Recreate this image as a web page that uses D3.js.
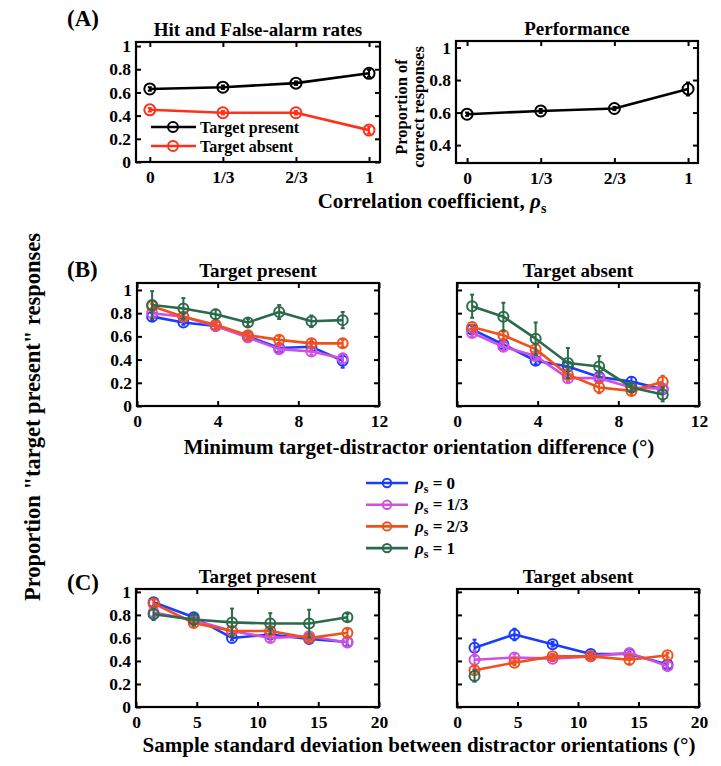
<!DOCTYPE html>
<html><head><meta charset="utf-8">
<script src="https://cdn.jsdelivr.net/npm/d3@7"></script>
<style>body{margin:0;background:#fff}svg{display:block}</style>
</head><body>
<svg id="c" width="721" height="766"></svg>
<script>
// ---------- DATA ----------
const rhoTicks = [0, 1/3, 2/3, 1];
const rhoLabels = ["0", "1/3", "2/3", "1"];
const hitRate = [0.63, 0.645, 0.68, 0.765];
const hitErr = [0.015, 0.015, 0.015, 0.03];
const faRate = [0.45, 0.425, 0.425, 0.275];
const faErr = [0.015, 0.015, 0.015, 0.03];
const perfRate = [0.59, 0.61, 0.625, 0.745];
const perfErr = [0.01, 0.012, 0.01, 0.04];

const seriesNames = ["0", "1/3", "2/3", "1"];
const seriesColors = ["#1a3cff", "#d24fe0", "#f0501a", "#2b6b4b"];

const orientBins = [0.75, 2.3, 3.9, 5.5, 7.05, 8.65, 10.2];
const orientTicks = [0, 4, 8, 12];
const bTP = [
  [0.77, 0.72, 0.69, 0.60, 0.50, 0.51, 0.39],
  [0.80, 0.77, 0.69, 0.59, 0.49, 0.47, 0.41],
  [0.86, 0.77, 0.70, 0.61, 0.57, 0.54, 0.54],
  [0.87, 0.84, 0.79, 0.72, 0.81, 0.73, 0.74]
];
const bTPerr = [
  [0.03, 0.02, 0.03, 0.03, 0.03, 0.03, 0.06],
  [0.03, 0.02, 0.03, 0.03, 0.03, 0.03, 0.04],
  [0.02, 0.02, 0.03, 0.03, 0.03, 0.03, 0.03],
  [0.12, 0.09, 0.04, 0.03, 0.06, 0.05, 0.07]
];
const bTA = [
  [0.66, 0.53, 0.39, 0.34, 0.25, 0.21, 0.145],
  [0.63, 0.51, 0.43, 0.24, 0.24, 0.16, 0.15],
  [0.68, 0.61, 0.49, 0.27, 0.16, 0.13, 0.21],
  [0.86, 0.77, 0.58, 0.37, 0.34, 0.16, 0.10]
];
const bTAerr = [
  [0.03, 0.03, 0.03, 0.03, 0.03, 0.04, 0.03],
  [0.03, 0.03, 0.03, 0.03, 0.03, 0.03, 0.03],
  [0.02, 0.03, 0.04, 0.04, 0.05, 0.03, 0.05],
  [0.10, 0.12, 0.14, 0.13, 0.09, 0.03, 0.06]
];

const sdBins = [1.45, 4.75, 7.9, 11.05, 14.25, 17.4];
const sdTicks = [0, 5, 10, 15, 20];
const cTP = [
  [0.91, 0.78, 0.60, 0.63, 0.59, 0.565],
  [0.82, 0.755, 0.66, 0.60, 0.615, 0.56],
  [0.90, 0.73, 0.66, 0.66, 0.60, 0.645],
  [0.805, 0.76, 0.735, 0.725, 0.725, 0.78]
];
const cTPerr = [
  [0.03, 0.03, 0.02, 0.03, 0.02, 0.03],
  [0.03, 0.03, 0.03, 0.03, 0.03, 0.04],
  [0.03, 0.03, 0.03, 0.03, 0.03, 0.03],
  [0.05, 0.05, 0.12, 0.09, 0.12, 0.03]
];
const cTA = [
  [0.515, 0.63, 0.545, 0.46, 0.46, 0.37],
  [0.41, 0.43, 0.42, 0.44, 0.47, 0.355],
  [0.32, 0.385, 0.44, 0.44, 0.41, 0.45],
  [0.27, null, null, null, null, null]
];
const cTAerr = [
  [0.07, 0.05, 0.02, 0.02, 0.02, 0.03],
  [0.08, 0.03, 0.02, 0.02, 0.03, 0.03],
  [0.03, 0.02, 0.02, 0.02, 0.04, 0.02],
  [0.05, 0, 0, 0, 0, 0]
];
const propTicks = [0, 0.2, 0.4, 0.6, 0.8, 1];
const perfTicks = [0.4, 0.6, 0.8, 1];

// ---------- DRAW ----------
const F = "'Liberation Serif','Times New Roman',serif";
const svg = d3.select("#c").style("font-family", F);

function fmtNum(v){ return v === 0 ? "0" : (v === 1 ? "1" : d3.format(".1f")(v)); }

function panel(o) {
  const x = d3.scaleLinear().domain(o.xd).range([o.x0, o.x1]);
  const y = d3.scaleLinear().domain(o.yd).range([o.y1, o.y0]);
  const g = svg.append("g");
  const tl = 5;
  const left = d3.axisLeft(y).tickValues(o.yt).tickSize(-tl).tickSizeOuter(0).tickPadding(5)
    .tickFormat(o.yLabels ? fmtNum : () => "");
  const right = d3.axisRight(y).tickValues(o.yt).tickSize(-tl).tickSizeOuter(0).tickFormat(() => "");
  const bottom = d3.axisBottom(x).tickValues(o.xt).tickSize(-tl).tickSizeOuter(0).tickPadding(9)
    .tickFormat((d, i) => o.xl ? o.xl[i] : d);
  const top = d3.axisTop(x).tickValues(o.xt).tickSize(-tl).tickSizeOuter(0).tickFormat(() => "");
  const ax = [
    g.append("g").attr("transform", `translate(${o.x0},0)`).call(left),
    g.append("g").attr("transform", `translate(${o.x1},0)`).call(right),
    g.append("g").attr("transform", `translate(0,${o.y1})`).call(bottom),
    g.append("g").attr("transform", `translate(0,${o.y0})`).call(top)
  ];
  ax.forEach(a => {
    a.select(".domain").remove();
    a.selectAll("line").attr("stroke", "#000").attr("stroke-width", 2);
    a.selectAll("text").attr("fill", "#000").style("font-family", F)
      .style("font-size", "17.5px").style("font-weight", "bold");
  });
  g.append("rect").attr("x", o.x0).attr("y", o.y0).attr("width", o.x1 - o.x0).attr("height", o.y1 - o.y0)
    .attr("fill", "none").attr("stroke", "#000").attr("stroke-width", 2.2);
  if (o.title) {
    g.append("text").attr("x", (o.x0 + o.x1) / 2).attr("y", o.y0 - 6).attr("text-anchor", "middle")
      .style("font-size", "19px").style("font-weight", "bold").text(o.title);
  }
  return {x, y, g};
}

function series(p, xs, ys, es, color, r) {
  const pts = xs.map((xv, i) => ({x: xv, y: ys[i], e: es[i]})).filter(d => d.y !== null);
  const gg = p.g.append("g");
  gg.append("path").datum(pts)
    .attr("d", d3.line().x(d => p.x(d.x)).y(d => p.y(d.y)))
    .attr("fill", "none").attr("stroke", color).attr("stroke-width", 2.6).attr("stroke-linejoin", "round");
  pts.forEach(d => {
    if (d.e > 0) {
      gg.append("line").attr("x1", p.x(d.x)).attr("x2", p.x(d.x))
        .attr("y1", p.y(d.y - d.e)).attr("y2", p.y(d.y + d.e))
        .attr("stroke", color).attr("stroke-width", 2);
      [d.y - d.e, d.y + d.e].forEach(v => gg.append("line")
        .attr("x1", p.x(d.x) - 2).attr("x2", p.x(d.x) + 2)
        .attr("y1", p.y(v)).attr("y2", p.y(v)).attr("stroke", color).attr("stroke-width", 2));
    }
    gg.append("circle").attr("cx", p.x(d.x)).attr("cy", p.y(d.y)).attr("r", r)
      .attr("fill", "none").attr("stroke", color).attr("stroke-width", 2);
  });
}

// Panel A
const pA1 = panel({x0: 136, x1: 380, y0: 42, y1: 162, xd: [-0.063, 1.05], yd: [0, 1.035],
  xt: rhoTicks, xl: rhoLabels, yt: propTicks, yLabels: true, title: "Hit and False-alarm rates"});
series(pA1, rhoTicks, hitRate, hitErr, "#000", 5.5);
series(pA1, rhoTicks, faRate, faErr, "#ff3019", 5.5);
// legend A
[["Target present", "#000", 127], ["Target absent", "#ff3019", 146]].forEach(([t, c, yy]) => {
  pA1.g.append("line").attr("x1", 151).attr("x2", 196).attr("y1", yy).attr("y2", yy)
    .attr("stroke", c).attr("stroke-width", 2.6);
  pA1.g.append("circle").attr("cx", 173).attr("cy", yy).attr("r", 5).attr("fill", "none")
    .attr("stroke", c).attr("stroke-width", 2);
  pA1.g.append("text").attr("x", 200).attr("y", yy + 5.5).style("font-size", "16px")
    .style("font-weight", "bold").text(t);
});

const pA2 = panel({x0: 456, x1: 698, y0: 41, y1: 163, xd: [-0.05, 1.045], yd: [0.29, 1.04],
  xt: rhoTicks, xl: rhoLabels, yt: perfTicks, yLabels: true, title: "Performance"});
series(pA2, rhoTicks, perfRate, perfErr, "#000", 5.5);
const yl = svg.append("text").attr("transform", "translate(410,107) rotate(-90)")
  .attr("text-anchor", "middle").style("font-size", "16.5px").style("font-weight", "bold");
yl.append("tspan").attr("x", 0).attr("dy", "-0.2em").text("Proportion of");
yl.append("tspan").attr("x", 0).attr("dy", "1.05em").text("correct responses");

// x label A
const xa = svg.append("text").attr("x", 432).attr("y", 208).attr("text-anchor", "middle")
  .style("font-size", "21px").style("font-weight", "bold");
xa.append("tspan").text("Correlation coefficient, ");
xa.append("tspan").style("font-style", "italic").text("ρ");
xa.append("tspan").attr("dy", 5).style("font-size", "14px").text("s");

// Panel B
const pB1 = panel({x0: 137, x1: 379, y0: 283, y1: 406, xd: [0, 12], yd: [0, 1.06],
  xt: orientTicks, yt: propTicks, yLabels: true, title: "Target present"});
const pB2 = panel({x0: 457, x1: 699, y0: 283, y1: 406, xd: [0, 12], yd: [0, 1.06],
  xt: orientTicks, yt: propTicks, yLabels: false, title: "Target absent"});
for (let s = 0; s < 4; s++) {
  series(pB1, orientBins, bTP[s], bTPerr[s], seriesColors[s], 5);
  series(pB2, orientBins, bTA[s], bTAerr[s], seriesColors[s], 5);
}
svg.append("text").attr("x", 419).attr("y", 454).attr("text-anchor", "middle")
  .style("font-size", "21px").style("font-weight", "bold")
  .text("Minimum target-distractor orientation difference (°)");

// Legend
seriesNames.forEach((n, i) => {
  const yy = 483 + i * 21.7;
  svg.append("line").attr("x1", 366).attr("x2", 408).attr("y1", yy).attr("y2", yy)
    .attr("stroke", seriesColors[i]).attr("stroke-width", 2.6);
  svg.append("circle").attr("cx", 387).attr("cy", yy).attr("r", 4.2).attr("fill", "none")
    .attr("stroke", seriesColors[i]).attr("stroke-width", 2);
  const t = svg.append("text").attr("x", 415).attr("y", yy + 5.5)
    .style("font-size", "17px").style("font-weight", "bold");
  t.append("tspan").style("font-style", "italic").text("ρ");
  t.append("tspan").attr("dy", 4).style("font-size", "12px").text("s");
  t.append("tspan").attr("dy", -4).text(" = " + n);
});

// Panel C
const pC1 = panel({x0: 136, x1: 379, y0: 589, y1: 707, xd: [0, 20], yd: [0, 1.025],
  xt: sdTicks, yt: propTicks, yLabels: true, title: "Target present"});
const pC2 = panel({x0: 457, x1: 699, y0: 589, y1: 707, xd: [0, 20], yd: [0, 1.025],
  xt: sdTicks, yt: propTicks, yLabels: false, title: "Target absent"});
for (let s = 0; s < 4; s++) {
  series(pC1, sdBins, cTP[s], cTPerr[s], seriesColors[s], 5);
  series(pC2, sdBins, cTA[s], cTAerr[s], seriesColors[s], 5);
}
svg.append("text").attr("x", 419).attr("y", 752).attr("text-anchor", "middle")
  .style("font-size", "21px").style("font-weight", "bold")
  .text("Sample standard deviation between distractor orientations (°)");

// Panel letters
[["(A)", 26], ["(B)", 277], ["(C)", 590]].forEach(([t, yy]) =>
  svg.append("text").attr("x", 67).attr("y", yy).style("font-size", "23px")
    .style("font-weight", "bold").text(t));

// Big y label
svg.append("text").attr("transform", "translate(40,417) rotate(-90)").attr("text-anchor", "middle")
  .style("font-size", "22.5px").style("font-weight", "bold")
  .text("Proportion \"target present\" responses");
</script>
</body></html>
